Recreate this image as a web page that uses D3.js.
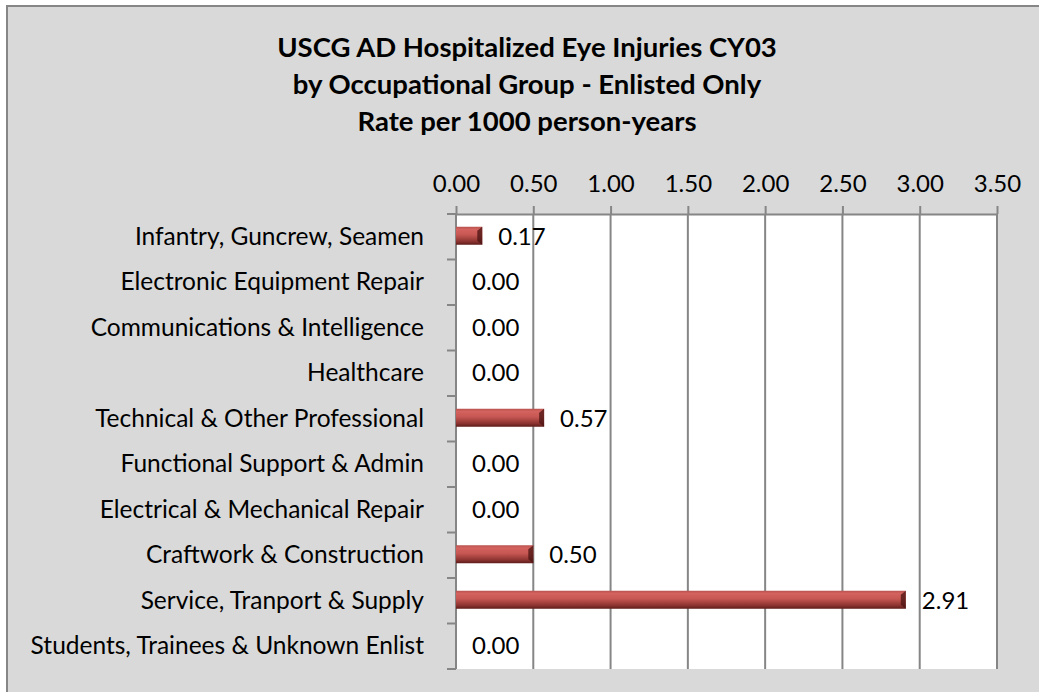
<!DOCTYPE html>
<html>
<head>
<meta charset="utf-8">
<script src="https://cdn.jsdelivr.net/npm/d3@7"></script>
<style>
  body { margin: 0; background: #fff; }
  svg { display: block; font-family: Lato, "Open Sans", sans-serif; }
</style>
</head>
<body>
<div id="chart"></div>
<script>
/**
 * Chart data
 */
var titleLines = [
  "USCG AD Hospitalized Eye Injuries CY03",
  "by Occupational Group - Enlisted Only",
  "Rate per 1000 person-years"
];
var categories = [
  "Infantry, Guncrew, Seamen",
  "Electronic Equipment Repair",
  "Communications & Intelligence",
  "Healthcare",
  "Technical & Other Professional",
  "Functional Support & Admin",
  "Electrical & Mechanical Repair",
  "Craftwork & Construction",
  "Service, Tranport & Supply",
  "Students, Trainees & Unknown Enlist"
];
var rates = [0.17, 0.00, 0.00, 0.00, 0.57, 0.00, 0.00, 0.50, 2.91, 0.00];
var xTicks = [0, 0.5, 1, 1.5, 2, 2.5, 3, 3.5];

var width = 1039;
var height = 692;
var margin = {top: 214, left: 456, right: 42, bottom: 23};

var svg = d3.select("#chart").append("svg")
  .attr("width", width)
  .attr("height", height);

// chart area background and border
svg.append("rect")
  .attr("x", 7).attr("y", 6)
  .attr("width", width + 20).attr("height", height + 20)
  .attr("fill", "#d9d9d9")
  .attr("stroke", "#868686")
  .attr("stroke-width", 2);

// title
svg.append("g").selectAll("text")
  .data(titleLines)
  .enter().append("text")
  .attr("x", 527)
  .attr("y", (d, i) => 57 + i * 37)
  .attr("text-anchor", "middle")
  .attr("font-size", 27.5)
  .attr("font-weight", "bold")
  .attr("fill", "#000")
  .text(d => d);

var x = d3.scaleLinear()
  .domain([0, 3.5])
  .range([margin.left, width - margin.right]);

var y = d3.scaleBand()
  .domain(categories)
  .range([margin.top, height - margin.bottom]);

// plot area
svg.append("rect")
  .attr("x", x(0)).attr("y", y.range()[0])
  .attr("width", x(3.5) - x(0))
  .attr("height", y.range()[1] - y.range()[0])
  .attr("fill", "#fff");

// vertical gridlines
svg.append("g").selectAll("line")
  .data(xTicks.slice(1))
  .enter().append("line")
  .attr("x1", d => x(d)).attr("x2", d => x(d))
  .attr("y1", y.range()[0]).attr("y2", y.range()[1])
  .attr("stroke", "#868686")
  .attr("stroke-width", 2);

// top axis
var xAxis = svg.append("g")
  .attr("transform", "translate(0," + margin.top + ")")
  .call(d3.axisTop(x).tickValues(xTicks).tickFormat(d3.format(".2f")).tickSize(8).tickSizeOuter(0).tickPadding(14));
xAxis.select(".domain").attr("stroke", "#868686").attr("stroke-width", 2);
xAxis.selectAll(".tick line").attr("stroke", "#868686").attr("stroke-width", 2);
xAxis.selectAll(".tick text")
  .attr("font-size", 24)
  .attr("font-family", "Lato, sans-serif")
  .attr("fill", "#000");

// left axis with ticks at category boundaries
var yAxis = svg.append("g")
  .attr("transform", "translate(" + x(0) + ",0)");
yAxis.append("line")
  .attr("x1", 0).attr("x2", 0)
  .attr("y1", y.range()[0]).attr("y2", y.range()[1])
  .attr("stroke", "#868686").attr("stroke-width", 2);
var boundaries = categories.map(c => y(c)).concat([y.range()[1]]);
yAxis.selectAll(".bnd")
  .data(boundaries)
  .enter().append("line")
  .attr("class", "bnd")
  .attr("x1", -9).attr("x2", 0)
  .attr("y1", d => d).attr("y2", d => d)
  .attr("stroke", "#868686").attr("stroke-width", 2);
yAxis.selectAll("text")
  .data(categories)
  .enter().append("text")
  .attr("x", -32)
  .attr("y", d => y(d) + y.bandwidth() / 2 + 8)
  .attr("text-anchor", "end")
  .attr("font-size", 24.5)
  .attr("fill", "#000")
  .text(d => d);

// bar gradients
var defs = svg.append("defs");
var grad = defs.append("linearGradient")
  .attr("id", "barGrad")
  .attr("x1", 0).attr("y1", 0).attr("x2", 0).attr("y2", 1);
grad.append("stop").attr("offset", "0%").attr("stop-color", "#b9524f");
grad.append("stop").attr("offset", "15%").attr("stop-color", "#d4625e");
grad.append("stop").attr("offset", "45%").attr("stop-color", "#c65752");
grad.append("stop").attr("offset", "80%").attr("stop-color", "#8f3532");
grad.append("stop").attr("offset", "100%").attr("stop-color", "#5e1c1a");

var barH = 18;
var bars = svg.append("g").selectAll("g")
  .data(categories.map((c, i) => ({cat: c, value: rates[i]})))
  .enter().append("g");

bars.filter(d => d.value > 0).append("rect")
  .attr("x", x(0))
  .attr("y", d => y(d.cat) + y.bandwidth() / 2 - barH / 2 - 1)
  .attr("width", d => x(d.value) - x(0))
  .attr("height", barH)
  .attr("fill", "url(#barGrad)");

// darker bevel at the bar end
bars.filter(d => d.value > 0).append("path")
  .attr("d", d => {
    var x1 = x(d.value), y0 = y(d.cat) + y.bandwidth() / 2 - barH / 2 - 1;
    return "M" + (x1 - 5) + "," + (y0 + 4) + "L" + x1 + "," + y0 +
      "L" + x1 + "," + (y0 + barH) + "L" + (x1 - 5) + "," + (y0 + barH - 4) + "Z";
  })
  .attr("fill", "#4a1312")
  .attr("opacity", 0.75);

// data labels
bars.append("text")
  .attr("x", d => x(d.value) + 16)
  .attr("y", d => y(d.cat) + y.bandwidth() / 2 + 8)
  .attr("font-size", 24)
  .attr("fill", "#000")
  .text(d => d3.format(".2f")(d.value));
</script>
</body>
</html>
